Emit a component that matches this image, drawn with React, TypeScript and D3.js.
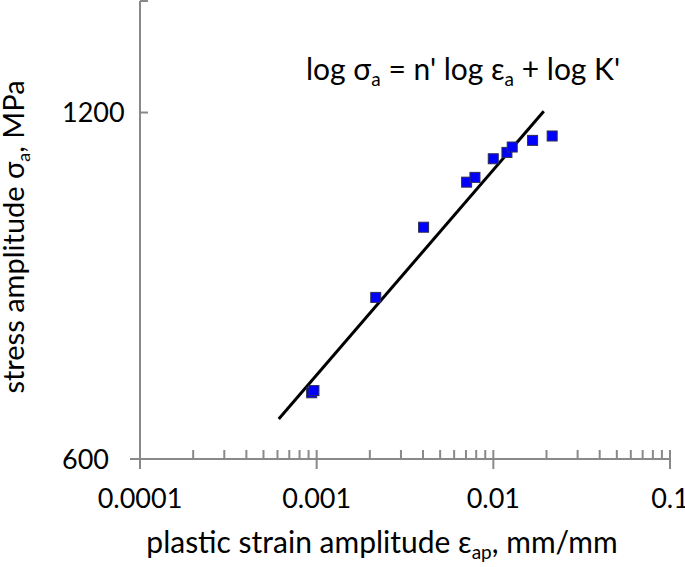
import React from "react";
import * as d3 from "d3";

const strain = [0.000937, 0.000965, 0.00216, 0.00403, 0.00706, 0.00787, 0.00999, 0.01194, 0.01279, 0.01668, 0.02153];
const stress = [685, 688, 829, 954, 1044, 1054, 1094, 1108, 1120, 1135, 1145];

// fitted line end points
const fitStrain = [0.00061, 0.0193];
const fitStress = [650, 1203];

const xTickValues = [0.0001, 0.001, 0.01, 0.1];
const xTickLabels = ["0.0001", "0.001", "0.01", "0.1"];
const yTickValues = [600, 1200];
const yTickLabels = ["600", "1200"];

const W = 685;
const H = 567;
const FONT = "Lato, 'Open Sans', sans-serif";
const AXIS = "#898989";

const App: React.FC = () => {
  const x = d3.scaleLog().domain([0.0001, 0.1]).range([140, 670]);
  const y = d3.scaleLog().domain([600, 1500]).range([459, 1]);

  // minor ticks 2..9 in each decade
  const minor: number[] = [];
  for (let e = -4; e < -1; e++) {
    for (let k = 2; k <= 9; k++) minor.push(k * Math.pow(10, e));
  }

  const line = d3
    .line<number>()
    .x((d) => x(fitStrain[d]))
    .y((d) => y(fitStress[d]));

  const x0 = x(0.0001);
  const yBase = y(600);

  return (
    <svg width={W} height={H} style={{ position: "absolute", left: 0, top: 0, background: "#fff" }} fontFamily={FONT}>
      {/* fit line */}
      <path d={line([0, 1]) || ""} stroke="#000" strokeWidth={3} fill="none" />

      {/* points */}
      {strain.map((s, i) => (
        <rect
          key={i}
          x={x(s) - 5}
          y={y(stress[i]) - 5}
          width={10}
          height={10}
          fill="#0000ff"
          stroke="#2b2b55"
          strokeWidth={1}
        />
      ))}

      {/* y axis */}
      <line x1={x0} x2={x0} y1={y(1500)} y2={yBase} stroke={AXIS} strokeWidth={2} />
      {[...yTickValues, 1500].map((v) => (
        <line key={v} x1={x0} x2={x0 + 8} y1={y(v)} y2={y(v)} stroke={AXIS} strokeWidth={2} />
      ))}
      {yTickValues.map((v, i) => (
        <text key={v} x={62} y={y(v)} dy="0.36em" fontSize={27} fill="#000">
          {yTickLabels[i]}
        </text>
      ))}

      {/* x axis */}
      <line x1={130} x2={x(0.1)} y1={yBase} y2={yBase} stroke={AXIS} strokeWidth={2} />
      {minor.map((v) => (
        <line key={v} x1={x(v)} x2={x(v)} y1={yBase - 9} y2={yBase} stroke={AXIS} strokeWidth={2} />
      ))}
      {xTickValues.map((v) => (
        <line key={v} x1={x(v)} x2={x(v)} y1={yBase - 9} y2={yBase + 10} stroke={AXIS} strokeWidth={2} />
      ))}
      {xTickValues.map((v, i) => (
        <text key={v} x={x(v)} y={508} textAnchor="middle" fontSize={27} fill="#000">
          {xTickLabels[i]}
        </text>
      ))}

      {/* axis titles */}
      <text x={382} y={553} textAnchor="middle" fontSize={30} fill="#000">
        plastic strain amplitude ε<tspan fontSize={19} dy={6}>ap</tspan>
        <tspan dy={-6}>, mm/mm</tspan>
      </text>
      <text transform="translate(24,237) rotate(-90)" textAnchor="middle" fontSize={29} fill="#000">
        stress amplitude σ<tspan fontSize={18} dy={6}>a</tspan>
        <tspan dy={-6}>, MPa</tspan>
      </text>

      {/* equation */}
      <text x={306} y={80} fontSize={30} fill="#000">
        log σ<tspan fontSize={19} dy={6}>a</tspan>
        <tspan dy={-6}> = n' log ε</tspan>
        <tspan fontSize={19} dy={6}>a</tspan>
        <tspan dy={-6}> + log K'</tspan>
      </text>
    </svg>
  );
};

export default App;
